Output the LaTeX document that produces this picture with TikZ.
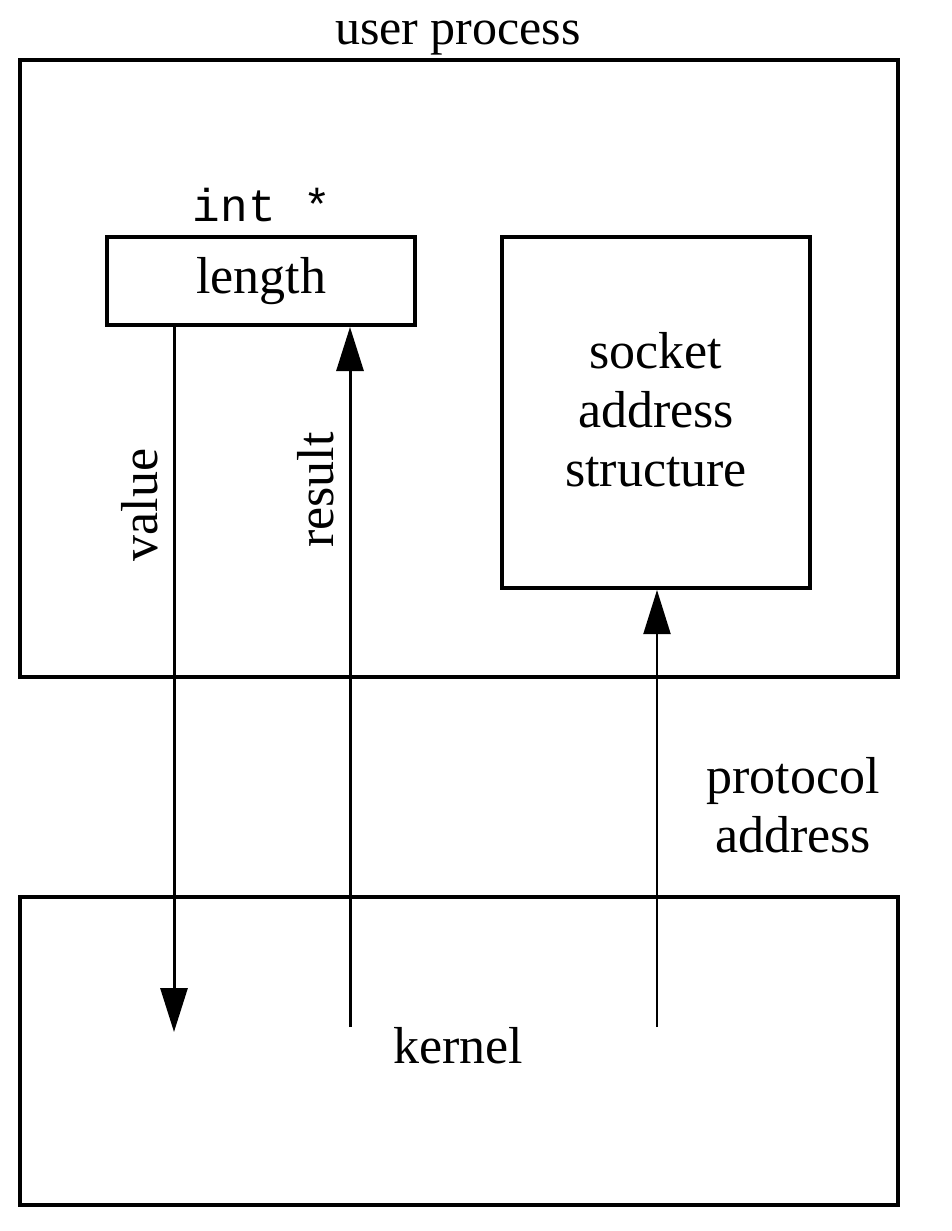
\documentclass[tikz,border=0pt]{standalone}
\usepackage{fontspec}
\setmainfont{Liberation Serif}
\setmonofont{Liberation Mono}
\usetikzlibrary{arrows.meta}
\begin{document}
\begin{tikzpicture}[x=1pt,y=-1pt,
  box/.style={draw, line width=4pt, rectangle, inner sep=0pt},
  lbl/.style={font=\fontsize{52}{59}\selectfont, inner sep=0pt, align=center},
  arr/.style={line width=3pt, -{Triangle[length=44pt,width=27pt]}},
  thinarr/.style={line width=2pt, -{Triangle[length=44pt,width=27pt]}}]
\path[use as bounding box] (0,0) rectangle (952,1231);
\node[box, minimum width=878pt, minimum height=617pt] (user) at (459,368.5) {};
\node[box, minimum width=878pt, minimum height=308pt] (kern) at (459,1051) {};
\node[box, minimum width=308pt, minimum height=88pt, lbl] (len) at (261,281) {length};
\node[box, minimum width=308pt, minimum height=351pt, lbl, text depth=6pt] (sock) at (656,412.5) {socket\\address\\structure};
\node[lbl, anchor=base, font=\fontsize{50}{59}\selectfont] (up) at (458,45) {user process};
\node[inner sep=0pt, font=\ttfamily\fontsize{46}{52}\selectfont] (int) at (262,205) {int *};
\node[lbl] (kl) at (458,1046) {kernel};
\node[lbl] (pa) at (793,805) {protocol\\address};
\coordinate (vend) at (174,1032);
\coordinate (rstart) at (350,1027);
\coordinate (pstart) at (657,1027);
\draw[arr] (vend |- len.south) -- (vend);
\draw[arr] (rstart) -- (rstart |- len.south);
\draw[thinarr] (pstart) -- (pstart |- sock.south);
\node[lbl, rotate=90] (val) at (140,505) {value};
\node[lbl, rotate=90] (res) at (316,490) {result};
\end{tikzpicture}
\end{document}
